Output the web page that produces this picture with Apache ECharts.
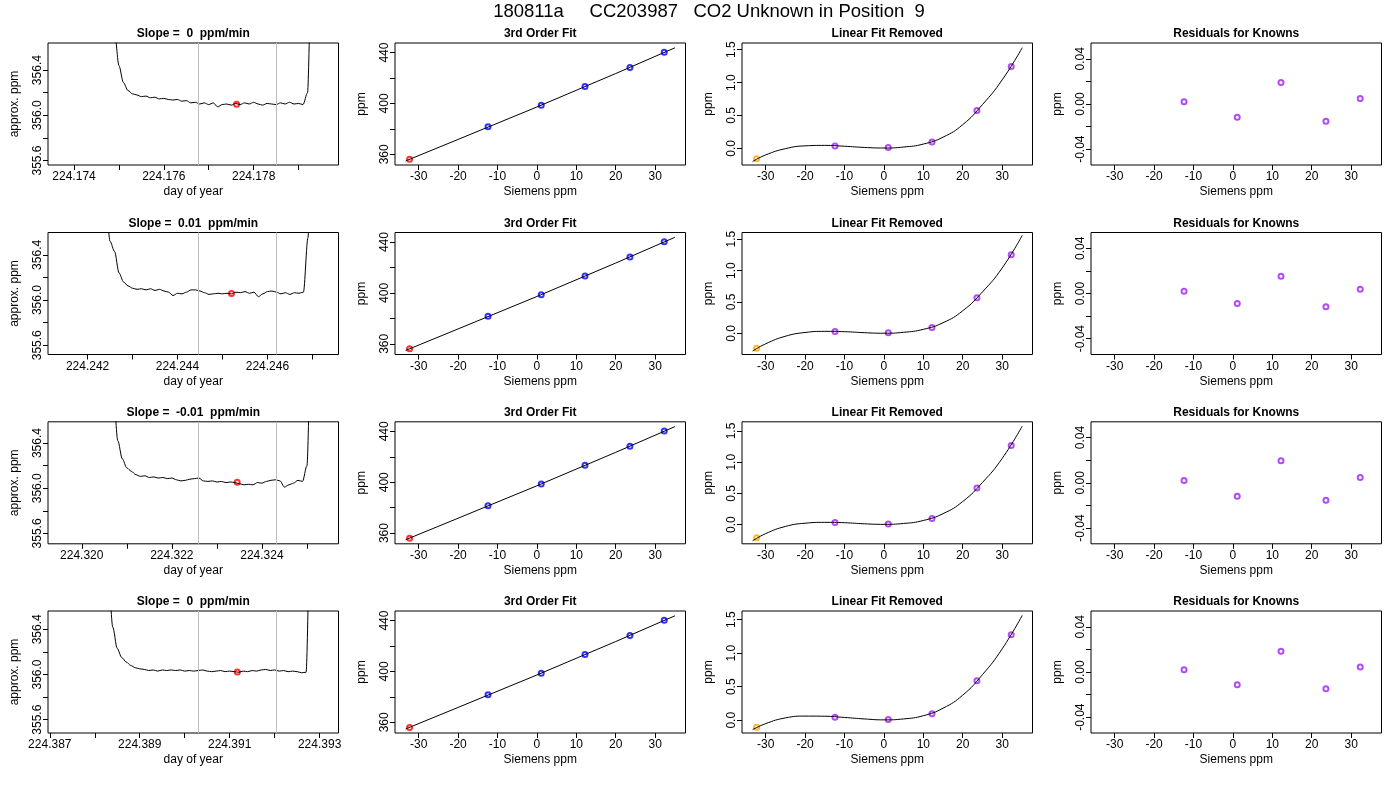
<!DOCTYPE html>
<html>
<head>
<meta charset="utf-8">
<title>180811a CC203987 CO2 Unknown in Position 9</title>
<script src="https://cdn.jsdelivr.net/npm/echarts@6/dist/echarts.min.js"></script>
<style>
  html, body { margin: 0; padding: 0; background: #fff; }
  #main { width: 1400px; height: 800px; }
</style>
</head>
<body>
<div id="main"></div>
<script>
var FONT = 'Liberation Sans, Arial, Helvetica, sans-serif';

// ---- data ----
var mainTitle = '180811a     CC203987   CO2 Unknown in Position  9';
var slopeLabels = ['0', '0.01', '-0.01', '0'];

// analyser trace (approx. ppm), one sample every doyStep days from doyStart
var doyStart = [224.1748, 224.2423, 224.3206, 224.3882];
var doyStep = 0.0001;
var trace1 = [357.6, 356.75, 356.44, 356.29, 356.22, 356.19, 356.18, 356.165, 356.17, 356.155,
  356.16, 356.145, 356.15, 356.14, 356.135, 356.14, 356.125, 356.13, 356.11, 356.115,
  356.10, 356.11, 356.095, 356.11, 356.075, 356.095, 356.10, 356.09, 356.105, 356.095,
  356.11, 356.10, 356.115, 356.10, 356.09, 356.105, 356.10, 356.095, 356.11, 356.10,
  356.115, 356.10, 356.105, 356.095, 356.2, 358.0];
var trace2 = [357.6, 356.9, 356.52, 356.43, 356.24, 356.16, 356.125, 356.105, 356.095, 356.10,
  356.09, 356.10, 356.085, 356.095, 356.08, 356.07, 356.04, 356.06, 356.055, 356.07,
  356.09, 356.09, 356.08, 356.065, 356.05, 356.055, 356.06, 356.055, 356.06, 356.055,
  356.07, 356.065, 356.075, 356.06, 356.07, 356.03, 356.055, 356.075, 356.08, 356.07,
  356.055, 356.065, 356.05, 356.065, 356.06, 356.07, 356.55, 358.0];
var trace3 = [357.6, 356.85, 356.42, 356.26, 356.18, 356.15, 356.12, 356.105, 356.11, 356.095,
  356.10, 356.09, 356.095, 356.085, 356.09, 356.075, 356.065, 356.07, 356.08, 356.085,
  356.09, 356.065, 356.06, 356.065, 356.055, 356.06, 356.05, 356.055, 356.05, 356.04,
  356.03, 356.035, 356.03, 356.05, 356.045, 356.06, 356.07, 356.075, 356.065, 356.01,
  356.03, 356.045, 356.07, 356.06, 356.2, 358.0];
var trace4 = [357.6, 356.9, 356.42, 356.23, 356.15, 356.11, 356.08, 356.06, 356.05, 356.045,
  356.035, 356.04, 356.03, 356.04, 356.035, 356.04, 356.035, 356.04, 356.03, 356.035,
  356.03, 356.035, 356.04, 356.03, 356.025, 356.03, 356.035, 356.025, 356.03, 356.025,
  356.02, 356.03, 356.025, 356.035, 356.03, 356.04, 356.045, 356.035, 356.04, 356.03,
  356.035, 356.025, 356.03, 356.025, 356.015, 356.02, 358.0];
var traces = [trace1, trace2, trace3, trace4];

// averaging window (gray lines) and the unknown's mean point (red)
var windowStart = [224.17677, 224.24447, 224.32259, 224.39030];
var windowEnd = [224.17850, 224.24619, 224.32431, 224.39203];
var unknownDoy = [224.17762, 224.24520, 224.32345, 224.39117];
var unknownTrace = [356.098, 356.059, 356.053, 356.023];

// axis extents and ticks of the trace panels
var doyMin = [224.17342, 224.24112, 224.31925, 224.38696];
var doyMax = [224.17989, 224.24758, 224.32570, 224.39342];
var doyTicks = [
  [224.174, 224.175, 224.176, 224.177, 224.178, 224.179],
  [224.242, 224.243, 224.244, 224.245, 224.246, 224.247],
  [224.320, 224.321, 224.322, 224.323, 224.324, 224.325],
  [224.387, 224.388, 224.389, 224.390, 224.391, 224.392, 224.393]
];
var doyLabels = [
  [224.174, 224.176, 224.178],
  [224.242, 224.244, 224.246],
  [224.320, 224.322, 224.324],
  [224.387, 224.389, 224.391, 224.393]
];
var traceMin = [355.56, 355.518, 355.508, 355.482];
var traceMax = [356.64, 356.598, 356.588, 356.562];
var traceTicks = [355.6, 355.8, 356.0, 356.2, 356.4];
var traceLabels = [355.6, 356.0, 356.4];

// calibration standards (Siemens ppm) and the unknown
var knownSiemens = [-12.4, 1.1, 12.2, 23.6, 32.3];
var unknownSiemens = -32.3;
var knownPpm = [381.6, 398.6, 413.3, 428.2, 440.2];
var unknownPpm = [356.10, 356.06, 356.05, 356.02];
var fitX = [-33.3, -20, 0, 20, 35.0];
var fitY = [354.8, 371.7, 397.2, 423.5, 443.7];

// linear fit removed
var curveX = [-33.3, -30, -25, -20, -15, -10, -5, 0, 5, 10, 15, 20, 25, 30, 35.1];
var curveY = [
  [-0.20, -0.10, -0.005, 0.038, 0.045, 0.032, 0.014, 0.005, 0.02, 0.065, 0.17, 0.36, 0.665, 1.04, 1.53],
  [-0.28, -0.165, -0.045, 0.015, 0.033, 0.028, 0.012, 0.003, 0.018, 0.065, 0.17, 0.36, 0.66, 1.04, 1.56],
  [-0.26, -0.145, -0.03, 0.022, 0.036, 0.03, 0.013, 0.004, 0.018, 0.066, 0.175, 0.37, 0.675, 1.06, 1.58],
  [-0.14, -0.05, 0.035, 0.062, 0.06, 0.042, 0.02, 0.006, 0.02, 0.068, 0.18, 0.375, 0.68, 1.065, 1.565]
];
var removedKnown = [
  [0.035, 0.012, 0.095, 0.576, 1.242],
  [0.032, 0.010, 0.096, 0.568, 1.250],
  [0.032, 0.010, 0.096, 0.585, 1.270],
  [0.045, 0.010, 0.099, 0.590, 1.277]
];
var removedUnknown = [-0.158, -0.234, -0.213, -0.104];
var removedMin = [-0.253, -0.335, -0.308, -0.19];
var removedMax = [1.601, 1.605, 1.648, 1.63];

// residuals for knowns
var residuals = [
  [0.0021, -0.0117, 0.0191, -0.0152, 0.0048],
  [0.0020, -0.0088, 0.0152, -0.0117, 0.0038],
  [0.0020, -0.0120, 0.0195, -0.0155, 0.0047],
  [0.0020, -0.0112, 0.0183, -0.0148, 0.0044]
];

// ---- layout ----
var colLeft = [48, 395, 742, 1091];
var rowTop = [43, 232.5, 421.8, 611];
var plotW = 290.5;
var plotH = 122;

function pairs(xs, ys) {
  var out = [];
  for (var i = 0; i < ys.length; i++) out.push([xs[i], ys[i]]);
  return out;
}

function valueAxis(gi, min, max, ticks, labels, digits, isY, name) {
  return {
    type: 'value', gridIndex: gi, min: min, max: max, scale: true,
    axisLine: { show: false, onZero: false },
    splitLine: { show: false },
    axisTick: { show: true, inside: false, length: 5, customValues: ticks,
      lineStyle: { color: '#000', width: 1 } },
    axisLabel: { show: true, customValues: labels, color: '#000', fontSize: 12,
      fontFamily: FONT, margin: isY ? 4 : 6, rotate: isY ? 90 : 0,
      formatter: function (v) { return v.toFixed(digits); } },
    name: name, nameLocation: 'middle', nameGap: isY ? 27 : 21,
    nameTextStyle: { color: '#000', fontSize: 12, fontFamily: FONT }
  };
}

function circles(gi, data, color) {
  return { type: 'scatter', xAxisIndex: gi, yAxisIndex: gi, silent: true, data: data,
    symbol: 'emptyCircle', symbolSize: 5, itemStyle: { color: color, borderWidth: 1 } };
}

var grids = [], xAxes = [], yAxes = [], series = [], texts = [];
var siemensTicks = [-30, -20, -10, 0, 10, 20, 30];

texts.push({ type: 'text', x: 709, y: 12,
  style: { text: mainTitle, font: '18.5px ' + FONT, fill: '#000', textAlign: 'center', textVerticalAlign: 'middle' } });

for (var r = 0; r < 4; r++) {
  for (var c = 0; c < 4; c++) {
    var gi = r * 4 + c;
    grids.push({ left: colLeft[c], top: rowTop[r], width: plotW, height: plotH,
      show: true, borderColor: '#000', borderWidth: 1, backgroundColor: 'transparent' });
    var title = c === 0 ? 'Slope =  ' + slopeLabels[r] + '  ppm/min'
      : (c === 1 ? '3rd Order Fit' : (c === 2 ? 'Linear Fit Removed' : 'Residuals for Knowns'));
    texts.push({ type: 'text', x: colLeft[c] + plotW / 2, y: rowTop[r] - 9,
      style: { text: title, font: 'bold 12px ' + FONT, fill: '#000', textAlign: 'center', textVerticalAlign: 'middle' } });
  }

  // trace panel
  var g0 = r * 4;
  var tx = [];
  for (var i = 0; i < traces[r].length; i++) tx.push(doyStart[r] + i * doyStep);
  xAxes.push(valueAxis(g0, doyMin[r], doyMax[r], doyTicks[r], doyLabels[r], 3, false, 'day of year'));
  yAxes.push(valueAxis(g0, traceMin[r], traceMax[r], traceTicks, traceLabels, 1, true, 'approx. ppm'));
  series.push({ type: 'line', xAxisIndex: g0, yAxisIndex: g0, data: pairs(tx, traces[r]),
    showSymbol: false, clip: true, silent: true, smooth: 0.3, smoothMonotone: 'x',
    lineStyle: { color: '#000', width: 1 },
    markLine: { silent: true, precision: 6, symbol: ['none', 'none'], label: { show: false },
      lineStyle: { color: '#bebebe', type: 'solid', width: 1 },
      data: [{ xAxis: windowStart[r] }, { xAxis: windowEnd[r] }] } });
  series.push(circles(g0, [[unknownDoy[r], unknownTrace[r]]], '#ff0000'));

  // 3rd order fit
  var g1 = r * 4 + 1;
  xAxes.push(valueAxis(g1, -36.0, 37.7, siemensTicks, siemensTicks, 0, false, 'Siemens ppm'));
  yAxes.push(valueAxis(g1, 351.6, 447.5, [360, 380, 400, 420, 440], [360, 400, 440], 0, true, 'ppm'));
  series.push({ type: 'line', xAxisIndex: g1, yAxisIndex: g1, data: pairs(fitX, fitY),
    showSymbol: false, silent: true, lineStyle: { color: '#000', width: 1 } });
  series.push(circles(g1, pairs(knownSiemens, knownPpm), '#0000ff'));
  series.push(circles(g1, [[unknownSiemens, unknownPpm[r]]], '#ff0000'));

  // linear fit removed
  var g2 = r * 4 + 2;
  xAxes.push(valueAxis(g2, -36.0, 37.7, siemensTicks, siemensTicks, 0, false, 'Siemens ppm'));
  yAxes.push(valueAxis(g2, removedMin[r], removedMax[r], [0, 0.5, 1, 1.5], [0, 0.5, 1, 1.5], 1, true, 'ppm'));
  series.push({ type: 'line', xAxisIndex: g2, yAxisIndex: g2, data: pairs(curveX, curveY[r]),
    smooth: true, showSymbol: false, silent: true, lineStyle: { color: '#000', width: 1 } });
  series.push(circles(g2, pairs(knownSiemens, removedKnown[r]), '#a020f0'));
  series.push(circles(g2, [[unknownSiemens, removedUnknown[r]]], '#ffa500'));

  // residuals
  var g3 = r * 4 + 3;
  xAxes.push(valueAxis(g3, -36.0, 37.7, siemensTicks, siemensTicks, 0, false, 'Siemens ppm'));
  yAxes.push(valueAxis(g3, -0.054, 0.054, [-0.04, -0.02, 0, 0.02, 0.04], [-0.04, 0, 0.04], 2, true, 'ppm'));
  series.push(circles(g3, pairs(knownSiemens, residuals[r]), '#a020f0'));
}

var chart = echarts.init(document.getElementById('main'), null, { renderer: 'canvas' });
chart.setOption({
  animation: false,
  backgroundColor: '#fff',
  textStyle: { fontFamily: FONT },
  grid: grids,
  xAxis: xAxes,
  yAxis: yAxes,
  series: series,
  graphic: texts
});
window.onresize = chart.resize;
</script>
</body>
</html>
